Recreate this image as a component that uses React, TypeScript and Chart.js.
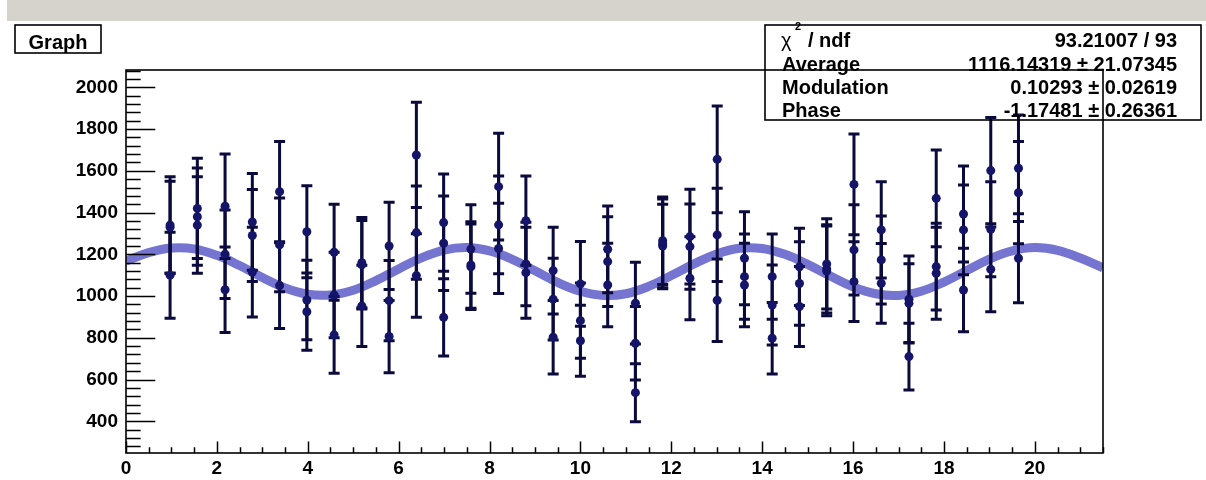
import React, { useEffect, useRef } from 'react';
import { Chart, registerables } from 'chart.js';

Chart.register(...registerables);

// ---------- data ----------
const xValues = [
  0.97, 0.97, 0.97, 1.57, 1.57, 1.57, 2.18, 2.18, 2.18, 2.78, 2.78, 2.78,
  3.38, 3.38, 3.38, 3.98, 3.98, 3.98, 4.58, 4.58, 4.58, 5.19, 5.19, 5.19,
  5.79, 5.79, 5.79, 6.39, 6.39, 6.39, 6.99, 6.99, 6.99, 7.59, 7.59, 7.59,
  8.2, 8.2, 8.2, 8.8, 8.8, 8.8, 9.4, 9.4, 9.4, 10.0, 10.0, 10.0,
  10.6, 10.6, 10.6, 11.21, 11.21, 11.21, 11.81, 11.81, 11.81, 12.41, 12.41, 12.41,
  13.01, 13.01, 13.01, 13.61, 13.61, 13.61, 14.22, 14.22, 14.22, 14.82, 14.82, 14.82,
  15.42, 15.42, 15.42, 16.02, 16.02, 16.02, 16.62, 16.62, 16.62, 17.23, 17.23, 17.23,
  17.83, 17.83, 17.83, 18.43, 18.43, 18.43, 19.03, 19.03, 19.03, 19.64, 19.64, 19.64,
];
const yValues = [
  1340, 1330, 1100, 1420, 1380, 1340, 1430, 1200, 1030, 1355, 1290, 1115,
  1500, 1245, 1050, 1308, 981, 925, 1210, 1005, 814, 1160, 1150, 953,
  1240, 978, 806, 1676, 1304, 1098, 1352, 1253, 898, 1225, 1149, 1140,
  1524, 1341, 1228, 1361, 1154, 1112, 1122, 985, 803, 1058, 882, 786,
  1224, 1165, 1053, 966, 774, 537, 1265, 1250, 1240, 1285, 1237, 1085,
  1655, 1293, 980, 1181, 1093, 1053, 1093, 957, 798, 1140, 1060, 950,
  1154, 1130, 1120, 1535, 1221, 1069, 1317, 1173, 1061, 985, 965, 710,
  1468, 1141, 1109, 1393, 1317, 1029, 1601, 1320, 1128, 1612, 1495, 1181,
];
const yErrors = [
  232, 220, 206, 240, 233, 231, 250, 212, 205, 232, 220, 215,
  240, 225, 205, 220, 190, 185, 230, 205, 184, 216, 212, 195,
  209, 192, 173, 252, 223, 200, 233, 226, 185, 212, 207, 205,
  256, 234, 216, 214, 200, 218, 208, 196, 176, 203, 180, 170,
  208, 215, 200, 196, 176, 139, 210, 215, 200, 227, 204, 199,
  256, 223, 198, 223, 204, 200, 204, 192, 171, 185, 200, 192,
  216, 211, 215, 241, 216, 191, 231, 211, 191, 207, 190, 160,
  232, 208, 220, 230, 215, 200, 255, 227, 203, 255, 245, 213,
];

// fit curve
const fitX = [
  0, 0.5, 1, 1.5, 2, 2.5, 3, 3.5, 4, 4.5, 5, 5.5, 6, 6.5, 7, 7.5, 8, 8.5, 9, 9.5, 10, 10.5,
  11, 11.5, 12, 12.5, 13, 13.5, 14, 14.5, 15, 15.5, 16, 16.5, 17, 17.5, 18, 18.5, 19, 19.5, 20, 20.5, 21, 21.5,
];
const fitY = [
  1168, 1208, 1230, 1226, 1195, 1146, 1089, 1039, 1009, 1005, 1028, 1074, 1130, 1183, 1220, 1232, 1216, 1176, 1121, 1065, 1023, 1003,
  1011, 1046, 1098, 1154, 1202, 1229, 1228, 1200, 1152, 1096, 1044, 1011, 1003, 1023, 1067, 1122, 1177, 1216, 1232, 1219, 1182, 1135,
];

const xTickLabels = [0, 2, 4, 6, 8, 10, 12, 14, 16, 18, 20];
const yTickLabels = [400, 600, 800, 1000, 1200, 1400, 1600, 1800, 2000];

const titleText = 'Graph';
const statsNames = ['Average', 'Modulation', 'Phase'];
const statsValues = ['93.21007 / 93', '1116.14319 ± 21.07345', '0.10293 ± 0.02619', '-1.17481 ± 0.26361'];

const X_MIN = 0;
const X_MAX = 21.5;
const Y_MIN = 248;
const Y_MAX = 2083;

const FONT = '"Liberation Sans", Arial, Helvetica, sans-serif';
const BAR_COLOR = 'rgb(10,10,60)';
const MARKER_COLOR = 'rgb(20,20,105)';
const FIT_COLOR = 'rgba(105,105,205,0.92)';

const decor = {
  id: 'rootDecor',
  beforeDraw(chart: any) {
    const ctx = chart.ctx;
    ctx.save();
    ctx.fillStyle = '#ffffff';
    ctx.fillRect(0, 0, chart.width, chart.height);
    ctx.fillStyle = 'rgb(214,211,205)';
    ctx.fillRect(7, 0, chart.width - 7, 21);
    ctx.restore();
  },
  afterDatasetDraw(chart: any, args: any) {
    if (args.index !== 1) return;
    const ctx = chart.ctx;
    const xs = chart.scales.x;
    const ys = chart.scales.y;
    ctx.save();
    ctx.strokeStyle = BAR_COLOR;
    ctx.lineWidth = 3;
    for (let i = 0; i < xValues.length; i++) {
      const px = xs.getPixelForValue(xValues[i]);
      const top = ys.getPixelForValue(yValues[i] + yErrors[i]);
      const bot = ys.getPixelForValue(yValues[i] - yErrors[i]);
      ctx.beginPath();
      ctx.moveTo(px, top);
      ctx.lineTo(px, bot);
      ctx.moveTo(px - 5.5, top);
      ctx.lineTo(px + 5.5, top);
      ctx.moveTo(px - 5.5, bot);
      ctx.lineTo(px + 5.5, bot);
      ctx.stroke();
    }
    ctx.restore();
  },
  afterDraw(chart: any) {
    const ctx = chart.ctx;
    const a = chart.chartArea;
    const xs = chart.scales.x;
    const ys = chart.scales.y;
    ctx.save();
    // frame
    ctx.strokeStyle = '#000';
    ctx.lineWidth = 1.6;
    ctx.strokeRect(a.left, a.top, a.right - a.left, a.bottom - a.top);
    // ticks (inward)
    ctx.lineWidth = 1.5;
    const yMajorLen = 0.03 * (a.right - a.left);
    const xMajorLen = 0.03 * (a.bottom - a.top);
    ctx.beginPath();
    for (let v = 280; v <= Y_MAX; v += 40) {
      const py = Math.round(ys.getPixelForValue(v)) + 0.5;
      const major = v % 200 === 0;
      ctx.moveTo(a.left, py);
      ctx.lineTo(a.left + (major ? yMajorLen : yMajorLen / 2), py);
    }
    for (let v = 0; v <= X_MAX + 1e-9; v += 0.5) {
      const px = Math.round(xs.getPixelForValue(v)) + 0.5;
      const major = Math.abs(v % 2) < 1e-9;
      ctx.moveTo(px, a.bottom);
      ctx.lineTo(px, a.bottom - (major ? xMajorLen : xMajorLen / 2));
    }
    ctx.stroke();

    // title box
    ctx.fillStyle = '#fff';
    ctx.fillRect(15, 25, 86, 28);
    ctx.lineWidth = 1.6;
    ctx.strokeRect(15, 25, 86, 28);
    ctx.fillStyle = '#000';
    ctx.font = `bold 20px ${FONT}`;
    ctx.textAlign = 'center';
    ctx.textBaseline = 'alphabetic';
    ctx.fillText(titleText, 58, 49);

    // stats box (hollow)
    ctx.strokeRect(765, 25, 436, 95);
    const baselines = [47, 70.5, 94, 117];
    ctx.textAlign = 'left';
    ctx.font = `20px ${FONT}`;
    ctx.fillText('χ', 781, baselines[0]);
    ctx.font = `bold 11px ${FONT}`;
    ctx.fillText('2', 795, 30);
    ctx.font = `bold 20px ${FONT}`;
    ctx.fillText('/ ndf', 808, baselines[0]);
    statsNames.forEach((n, i) => ctx.fillText(n, 782, baselines[i + 1]));
    ctx.textAlign = 'right';
    statsValues.forEach((v, i) => ctx.fillText(v, 1177, baselines[i]));
    ctx.restore();
  },
};

export default function App() {
  const ref = useRef<HTMLCanvasElement | null>(null);
  useEffect(() => {
    if (!ref.current) return;
    const tickFont = { family: FONT, size: 19, weight: 'bold' as const };
    const chart = new Chart(ref.current, {
      type: 'scatter',
      data: {
        datasets: [
          {
            label: 'Graph',
            data: xValues.map((x, i) => ({ x, y: yValues[i] })),
            pointRadius: 4.5,
            pointBackgroundColor: MARKER_COLOR,
            pointBorderWidth: 0,
            showLine: false,
          },
          {
            label: 'fit',
            data: fitX.map((x, i) => ({ x, y: fitY[i] })),
            showLine: true,
            borderColor: FIT_COLOR,
            borderWidth: 9,
            pointRadius: 0,
            tension: 0.4,
          },
        ],
      },
      options: {
        animation: false,
        responsive: false,
        devicePixelRatio: 1,
        events: [],
        layout: { padding: { left: 0, top: 70, right: 103, bottom: 0 } },
        plugins: { legend: { display: false }, tooltip: { enabled: false } },
        scales: {
          x: {
            type: 'linear',
            min: X_MIN,
            max: X_MAX,
            grid: { display: false, drawTicks: false },
            border: { display: false },
            ticks: {
              font: tickFont,
              color: '#000',
              padding: 4,
              maxRotation: 0,
              autoSkip: false,
              callback: (v: any) => String(v),
            },
            afterBuildTicks: (s: any) => {
              s.ticks = xTickLabels.map((v) => ({ value: v }));
            },
            afterFit: (s: any) => {
              s.height = 27;
            },
          },
          y: {
            type: 'linear',
            min: Y_MIN,
            max: Y_MAX,
            grid: { display: false, drawTicks: false },
            border: { display: false },
            ticks: {
              font: tickFont,
              color: '#000',
              padding: 8,
              autoSkip: false,
              callback: (v: any) => String(v),
            },
            afterBuildTicks: (s: any) => {
              s.ticks = yTickLabels.map((v) => ({ value: v }));
            },
            afterFit: (s: any) => {
              s.width = 126;
            },
          },
        },
      },
      plugins: [decor],
    });
    return () => chart.destroy();
  }, []);
  return (
    <div style={{ position: 'absolute', left: 0, top: 0, width: 1206, height: 480, background: '#fff' }}>
      <canvas ref={ref} width={1206} height={480} style={{ display: 'block' }} />
    </div>
  );
}
